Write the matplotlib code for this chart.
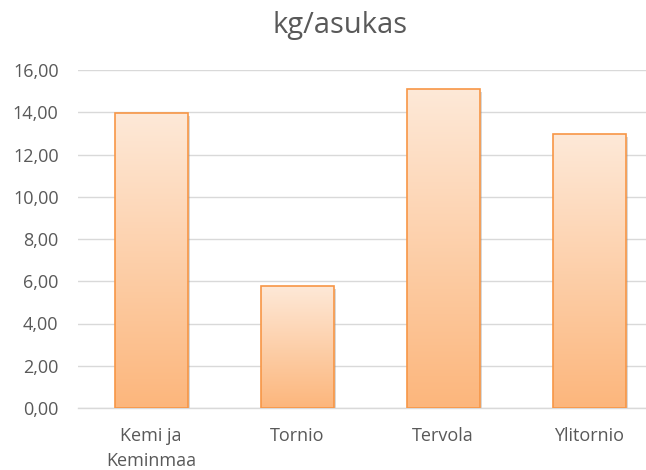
import numpy as np
import matplotlib
matplotlib.use("Agg")
import matplotlib.pyplot as plt
import matplotlib.patheffects as pe
from matplotlib.colors import LinearSegmentedColormap
from matplotlib.ticker import FuncFormatter

# data
kunnat = ["Kemi ja\nKeminmaa", "Tornio", "Tervola", "Ylitornio"]
kg_asukas = [13.97, 5.78, 15.11, 12.97]
y_ticks = [0, 2, 4, 6, 8, 10, 12, 14, 16]

plt.rcParams['font.family'] = ['Open Sans', 'DejaVu Sans']
harmaa = "#595959"

fig = plt.figure(figsize=(6.46, 4.70), dpi=100)
ax = fig.add_axes([78 / 646, 62 / 470, 1 - 78 / 646, 338 / 470])

x = np.arange(len(kunnat))
leveys = 0.5

# varjo + pohja
pohjat = ax.bar(x, kg_asukas, width=leveys, color="white", zorder=2)
for b in pohjat:
    b.set_path_effects([pe.SimplePatchShadow(offset=(2, -2), shadow_rgbFace="#808080", alpha=0.3), pe.Normal()])

# liukuväri (vaalea ylhäällä, tummempi alhaalla)
cmap = LinearSegmentedColormap.from_list("oranssi", ["#FCB67C", "#FEE9D8"])
grad = np.linspace(0, 1, 256).reshape(-1, 1)
for b in pohjat:
    x0, w, h = b.get_x(), b.get_width(), b.get_height()
    im = ax.imshow(grad, cmap=cmap, aspect="auto", origin="lower",
                   extent=[x0, x0 + w, 0, h], zorder=3)
    im.set_clip_path(b)

ax.bar(x, kg_asukas, width=leveys, facecolor="none", edgecolor="#F79646",
       linewidth=1.2, zorder=4)

ax.set_xlim(-0.5, (646 - 78) / 146 - 0.5)
ax.set_ylim(0, 16)
ax.set_yticks(y_ticks)
ax.yaxis.set_major_formatter(FuncFormatter(lambda v, p: f"{v:.2f}".replace(".", ",")))
ax.set_xticks(x)
ax.set_xticklabels(kunnat)

ax.grid(axis="y", color="#D9D9D9", linewidth=1.0)
ax.set_axisbelow(True)
for s in ["top", "right", "left"]:
    ax.spines[s].set_visible(False)
ax.spines["bottom"].set_color("#D9D9D9")
ax.spines["bottom"].set_linewidth(1.0)

ax.tick_params(axis="y", length=0, pad=14, labelsize=13, labelcolor=harmaa)
ax.tick_params(axis="x", length=0, pad=14, labelsize=13, labelcolor=harmaa)
for lbl in ax.get_xticklabels():
    lbl.set_linespacing(1.45)

fig.text(340 / 646, 1 - 25 / 470, "kg/asukas", ha="center", va="center",
         fontsize=21, color=harmaa)

fig.savefig("out.png", dpi=100)
